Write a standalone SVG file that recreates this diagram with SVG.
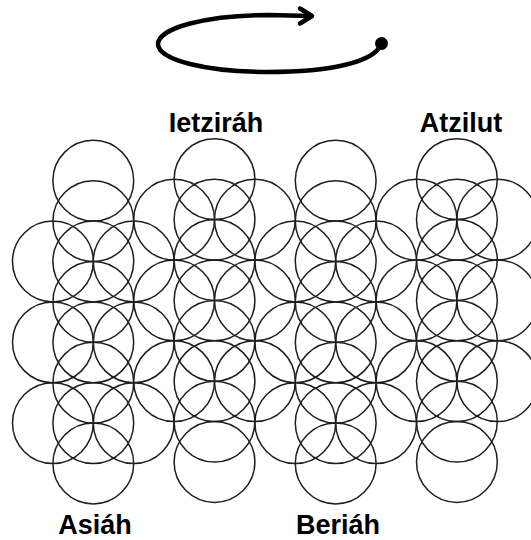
<svg xmlns="http://www.w3.org/2000/svg" xmlns:xlink="http://www.w3.org/1999/xlink" width="531" height="540" viewBox="0 0 531 540">
  <style>
    .c { fill: none; stroke: #1e1e1e; stroke-width: 1.5; }
    .lbl { font-family: "Liberation Sans", Arial, sans-serif; font-weight: bold; font-size: 27px; fill: #000; text-anchor: middle; }
    .loop { fill: none; stroke: #000; stroke-width: 4.5; stroke-linecap: round; stroke-linejoin: round; }
  </style>
  <defs>
    <circle id="cc" class="c" cx="0" cy="0" r="40.4"/>
  </defs>
  <rect width="531" height="540" fill="#fff"/>

  <g id="connectors">
    <path class="loop" d="M381,44 C375,62 330,72 268,72 C207,72 158,60 158,44 C158,28 207,15 268,15 L311,16"/>
    <polyline class="loop" points="300,8.5 312,16 300,23.5"/>
    <circle cx="381.5" cy="43.5" r="6.5" fill="#000"/>
  </g>

  <g id="asiah">
    <use href="#cc" x="93.3" y="180.7"/>
    <use href="#cc" x="93.3" y="221.1"/>
    <use href="#cc" x="93.3" y="261.5"/>
    <use href="#cc" x="93.3" y="301.9"/>
    <use href="#cc" x="93.3" y="342.3"/>
    <use href="#cc" x="93.3" y="382.7"/>
    <use href="#cc" x="93.3" y="423.1"/>
    <use href="#cc" x="93.3" y="463.5"/>
    <use href="#cc" x="52.9" y="261.5"/>
    <use href="#cc" x="52.9" y="342.3"/>
    <use href="#cc" x="52.9" y="423.1"/>
    <use href="#cc" x="133.7" y="261.5"/>
    <use href="#cc" x="133.7" y="342.3"/>
    <use href="#cc" x="133.7" y="423.1"/>
    <text class="lbl" x="95" y="534">Asiáh</text>
  </g>

  <g id="ietzirah">
    <use href="#cc" x="214.5" y="179.2"/>
    <use href="#cc" x="214.5" y="219.6"/>
    <use href="#cc" x="214.5" y="260.0"/>
    <use href="#cc" x="214.5" y="300.4"/>
    <use href="#cc" x="214.5" y="340.8"/>
    <use href="#cc" x="214.5" y="381.2"/>
    <use href="#cc" x="214.5" y="421.6"/>
    <use href="#cc" x="214.5" y="462.0"/>
    <use href="#cc" x="174.1" y="219.6"/>
    <use href="#cc" x="174.1" y="300.4"/>
    <use href="#cc" x="174.1" y="381.2"/>
    <use href="#cc" x="254.9" y="219.6"/>
    <use href="#cc" x="254.9" y="300.4"/>
    <use href="#cc" x="254.9" y="381.2"/>
    <text class="lbl" x="216" y="132">Ietziráh</text>
  </g>

  <g id="beriah">
    <use href="#cc" x="335.7" y="180.7"/>
    <use href="#cc" x="335.7" y="221.1"/>
    <use href="#cc" x="335.7" y="261.5"/>
    <use href="#cc" x="335.7" y="301.9"/>
    <use href="#cc" x="335.7" y="342.3"/>
    <use href="#cc" x="335.7" y="382.7"/>
    <use href="#cc" x="335.7" y="423.1"/>
    <use href="#cc" x="335.7" y="463.5"/>
    <use href="#cc" x="295.3" y="261.5"/>
    <use href="#cc" x="295.3" y="342.3"/>
    <use href="#cc" x="295.3" y="423.1"/>
    <use href="#cc" x="376.1" y="261.5"/>
    <use href="#cc" x="376.1" y="342.3"/>
    <use href="#cc" x="376.1" y="423.1"/>
    <text class="lbl" x="338" y="534">Beriáh</text>
  </g>

  <g id="atzilut">
    <use href="#cc" x="456.9" y="179.2"/>
    <use href="#cc" x="456.9" y="219.6"/>
    <use href="#cc" x="456.9" y="260.0"/>
    <use href="#cc" x="456.9" y="300.4"/>
    <use href="#cc" x="456.9" y="340.8"/>
    <use href="#cc" x="456.9" y="381.2"/>
    <use href="#cc" x="456.9" y="421.6"/>
    <use href="#cc" x="456.9" y="462.0"/>
    <use href="#cc" x="416.5" y="219.6"/>
    <use href="#cc" x="416.5" y="300.4"/>
    <use href="#cc" x="416.5" y="381.2"/>
    <use href="#cc" x="497.3" y="219.6"/>
    <use href="#cc" x="497.3" y="300.4"/>
    <use href="#cc" x="497.3" y="381.2"/>
    <text class="lbl" x="461" y="132">Atzilut</text>
  </g>
</svg>
